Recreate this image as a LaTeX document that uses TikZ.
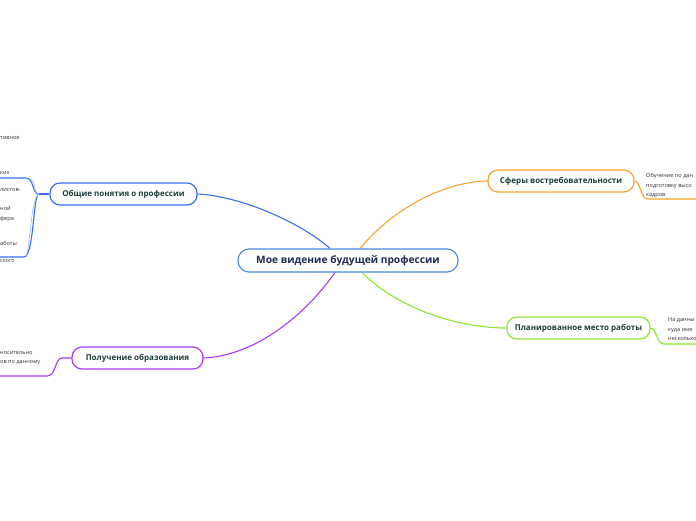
\documentclass[tikz,border=0pt]{standalone}
\usepackage{fontspec}
\setmainfont{Open Sans}
\usetikzlibrary{backgrounds}
\definecolor{blueC}{HTML}{3A6FF0}
\definecolor{blueL}{HTML}{9DBDFB}
\definecolor{orangeC}{HTML}{F7A531}
\definecolor{greenC}{HTML}{8BE62E}
\definecolor{purpleC}{HTML}{A63BF0}
\definecolor{centralC}{HTML}{4A89DC}
\definecolor{centralT}{HTML}{1D2B55}
\definecolor{topicT}{HTML}{1C3D3A}
\definecolor{smallT}{HTML}{333333}
\tikzset{
  central/.style={draw=centralC, line width=1.1pt, fill=white, rounded corners=11pt,
    minimum width=220pt, minimum height=23pt, inner sep=0pt, text=centralT,
    font=\fontsize{10.2}{12}\selectfont\bfseries},
  topic/.style={line width=1.2pt, fill=white, rounded corners=10pt,
    minimum height=22pt, inner sep=0pt, text=topicT,
    font=\fontsize{8}{10}\selectfont\bfseries},
  small/.style={anchor=base west, inner sep=0pt, text=smallT,
    font=\fontsize{5.6}{7}\selectfont},
  conn/.style={line width=1.1pt},
  sub/.style={line width=1.1pt},
  subl/.style={line width=0.6pt}
}
\begin{document}
\begin{tikzpicture}[x=1pt,y=-1pt]
\useasboundingbox (0,0) rectangle (696,520);
\clip (0,0) rectangle (696,520);

% central and main topics
\node[central] (c) at (348,260.5) {Мое видение будущей профессии};
\node[topic, draw=blueC, minimum width=147pt] (t1) at (123.5,194) {Общие понятия о профессии};
\node[topic, draw=orangeC, minimum width=146pt] (t2) at (561,181) {Сферы востребовательности};
\node[topic, draw=greenC, minimum width=143pt] (t3) at (578.5,328) {Планированное место работы};
\node[topic, draw=purpleC, minimum width=131pt] (t4) at (137.5,358) {Получение образования};

% junctions and free ends
\coordinate (j1) at (39,194);
\coordinate (e1a) at (0,178);
\coordinate (e1b) at (0,257);
\coordinate (j4) at (62,358);
\coordinate (e4) at (0,376);
\coordinate (e2) at (696,199);
\coordinate (e3) at (696,344);

\begin{scope}[on background layer]
\fill[white] (0,0) rectangle (696,520);
% main connectors
\draw[conn, blueC] ([xshift=-18pt]c.north) .. controls (300,222) and (240,196) .. (t1.east);
\draw[conn, orangeC] ([xshift=12pt]c.north) .. controls (390,212) and (440,182) .. (t2.west);
\draw[conn, greenC] ([xshift=14pt]c.south) .. controls (400,310) and (460,328) .. (t3.west);
\draw[conn, purpleC] ([xshift=-13pt]c.south) .. controls (300,322) and (250,356) .. (t4.east);

% blue subtopics
\draw[sub, blueC] (t1.west) -- (j1);
\draw[sub, blueC] (j1) .. controls (32,194) and (34,178) .. (26,178) -- (e1a);
\draw[sub, blueC] (j1) .. controls (33,194) and (34,257) .. (24,257) -- (e1b);
\draw[subl, blueL] (j1) .. controls (33,193) and (36,180) .. (30,179);
\draw[subl, blueL] (j1) .. controls (31,196) and (30,250) .. (26,256);

% purple subtopic
\draw[sub, purpleC] (t4.west) -- (j4) .. controls (55,358) and (56,376) .. (47,376) -- (e4);

% orange subtopic
\draw[sub, orangeC] (t2.east) .. controls (641,181) and (640,199) .. (648,199) -- (e2);

% green subtopic
\draw[sub, greenC] (t3.east) .. controls (657,328) and (656,344) .. (664,344) -- (e3);
\end{scope}

% small texts
\node[small] (s1) at (0,139) {тивное};
\node[small] (s2) at (0,174) {ких};
\node[small] (s3) at (0,191) {листов-};
\node[small] (s4) at (0,210) {ной};
\node[small] (s5) at (0,220) {фера};
\node[small] (s6) at (0,245) {аботы};
\node[small] (s7) at (0,262) {ского};
\node[small] (s8) at (0,354) {носительно};
\node[small] (s9) at (0,363) {ов по данному};
\node[small] (r1) at (646,177) {Обучение по дан};
\node[small] (r2) at (646,187) {подготовку высо};
\node[small] (r3) at (646,196) {кадров};
\node[small] (g1) at (668,321) {На данны};
\node[small] (g2) at (668,331) {куда име};
\node[small] (g3) at (668,340) {несколько};
\end{tikzpicture}
\end{document}
